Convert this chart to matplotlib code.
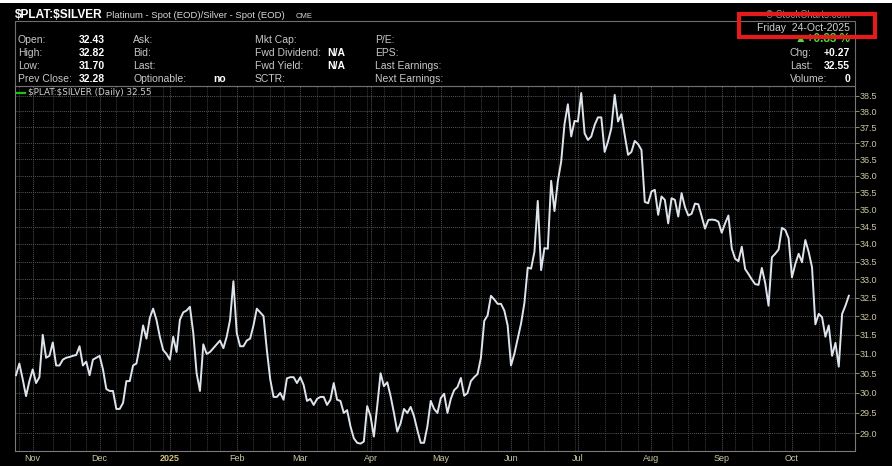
import numpy as np
import pandas as pd
import matplotlib
matplotlib.use("Agg")
import matplotlib.pyplot as plt
from matplotlib.patches import Rectangle
from matplotlib.ticker import FixedLocator, FuncFormatter, NullLocator

# daily close of $PLAT:$SILVER, 25-Oct-2024 .. 24-Oct-2025 (NYSE trading days)
HOLIDAYS = ["2024-11-28", "2024-12-25", "2025-01-01", "2025-01-09", "2025-01-20",
            "2025-02-17", "2025-04-18", "2025-05-26", "2025-06-19", "2025-07-04",
            "2025-09-01"]

ratio_q4_2024 = [
    30.45, 30.75, 30.35, 29.92, 30.3, 30.6, 30.25, 30.4, 31.5, 30.9,
    30.95, 31.3, 30.7, 30.7, 30.85, 30.9, 30.92, 30.95, 30.97, 31.2,
    30.7, 30.8, 30.45, 30.85, 30.9, 30.95, 30.6, 30.1, 30.05, 30.05,
    29.6, 29.6, 29.75, 30.3, 30.3, 30.7, 30.75, 31.2, 31.75, 31.4,
    31.95, 32.2, 31.9, 31.45, 31.1, 31.0, 30.85, 31.45, 31.05, 31.9,
    32.1, 32.15, 32.25, 31.55, 30.5, 30.05, 31.25, 31.0, 31.05, 31.15,
    31.25, 31.35, 31.15, 31.45, 31.9, 32.95, 31.55, 31.2,
]
ratio_feb_apr = [
    31.2, 31.35, 31.4, 31.75, 32.2, 32.1, 32.0, 31.1, 30.35, 29.9,
    29.9, 30.0, 29.83, 30.37, 30.4, 30.4, 30.25, 30.4, 30.2, 29.8,
    29.85, 29.7, 29.85, 29.9, 29.9, 29.7, 29.83, 30.25, 29.83, 29.8,
    29.5, 29.57, 29.17, 28.88, 28.77, 28.75, 28.8, 29.67, 29.42, 28.92,
    29.67, 30.5, 30.17, 30.27, 29.92, 29.5, 29.04, 29.25, 29.6, 29.5,
    29.65, 29.42, 29.08, 28.77, 28.77, 29.17,
]
ratio_may_jun = [
    29.8, 29.6, 29.5, 29.87, 29.98, 29.5, 29.85, 30.07, 30.15, 30.38,
    29.93, 30.0, 30.3, 30.4, 30.48, 30.9, 31.87, 32.02, 32.55, 32.45,
    32.33, 32.33, 32.15, 31.75, 30.7, 31.0, 31.4, 31.8, 32.35,
    33.33, 33.3, 33.77, 35.25, 33.26, 33.88, 33.86, 35.85, 34.95, 35.84,
]
ratio_jul_aug = [
    36.43, 37.6, 38.23, 37.21, 37.7, 37.68, 38.59, 37.31, 37.1, 37.21,
    37.57, 37.81, 37.81, 36.73, 37.05, 37.47, 38.53, 37.68, 37.91, 37.25,
    36.64, 36.73, 37.07, 36.97, 36.79,
    35.22, 35.18, 35.53, 35.58, 34.84, 35.38, 35.28, 34.59, 35.33, 35.28,
    34.79,
]
ratio_sep_oct = [
    35.48, 35.07, 34.82, 34.87, 35.17, 35.15, 34.8, 34.44, 34.69, 34.7,
    34.69, 34.64, 34.32, 34.59, 34.82, 33.87, 33.58, 33.51, 33.92, 33.29,
    33.15, 33.0, 32.87, 32.85, 33.32, 32.9, 32.28, 33.62, 33.72, 33.84,
    34.46, 34.4, 34.16, 33.06, 33.43, 33.72, 33.48, 34.11, 33.77, 33.34,
    31.78, 32.06, 31.97, 31.45, 31.75, 30.95, 31.29, 30.67, 32.06, 32.28,
    32.55,
]
ratio = ratio_q4_2024 + ratio_feb_apr + ratio_may_jun + ratio_jul_aug + ratio_sep_oct

MONTH_LABELS = ["Nov", "Dec", "2025", "Feb", "Mar", "Apr", "May", "Jun",
                "Jul", "Aug", "Sep", "Oct"]
Y_TICKS = [29.0, 29.5, 30.0, 30.5, 31.0, 31.5, 32.0, 32.5, 33.0, 33.5,
           34.0, 34.5, 35.0, 35.5, 36.0, 36.5, 37.0, 37.5, 38.0, 38.5]

dates = pd.bdate_range("2024-10-25", "2025-10-24", freq="C", holidays=HOLIDAYS)
n = min(len(dates), len(ratio))
dates = dates[:n]
ratio = ratio[:n]
idx = np.arange(n)

# first trading day of every month (skip the partial October 2024)
s = pd.Series(idx, index=dates)
month_start = s.groupby([dates.year, dates.month]).first().values[1:]
# first trading day of every week, unless a month line sits right there
week_start = s.groupby(dates.to_period("W")).first().values
week_lines = [w for w in week_start
              if not any(0 <= w - m <= 3 for m in month_start) and w > 0]

W, H = 892, 466
fig = plt.figure(figsize=(W / 100, H / 100), dpi=100, facecolor="black")
ax = fig.add_axes([15 / W, (H - 450.7) / H, (854.5 - 15) / W, (450.7 - 86) / H])
ax.set_facecolor("black")

ax.plot(idx, ratio, color="#dde4ec", lw=1.4, zorder=3)

ax.set_yscale("log")
ax.set_ylim(28.58, 38.82)
ax.set_xlim(-0.3, 250.7)

ax.yaxis.set_major_locator(FixedLocator(Y_TICKS))
ax.yaxis.set_minor_locator(NullLocator())
ax.yaxis.set_major_formatter(FuncFormatter(lambda v, p: f"{v:.1f}"))
ax.yaxis.tick_right()
ax.tick_params(axis="y", which="major", length=3, color="#8a8670", pad=1,
               labelsize=6.5, labelcolor="#cdc7a2")
for lab in ax.get_yticklabels():
    lab.set_family("Liberation Sans")

ax.xaxis.set_major_locator(FixedLocator(month_start))
ax.xaxis.set_minor_locator(FixedLocator(week_lines))
ax.set_xticklabels(MONTH_LABELS[:len(month_start)])
ax.tick_params(axis="x", which="both", length=0, pad=2.5, labelsize=6.5,
               labelcolor="#cdc7a2")
for lab in ax.get_xticklabels():
    lab.set_family("Liberation Sans")
    if lab.get_text() == "2025":
        lab.set_fontweight("bold")
        lab.set_color("#d2c07c")

ax.grid(which="major", axis="both", color="#555555", lw=0.7, ls=(0, (1, 1)))
ax.grid(which="minor", axis="x", color="#3c3c3c", lw=0.7, ls=(0, (1, 1)))
for sp in ax.spines.values():
    sp.set_color("#7a7a7a")
    sp.set_linewidth(0.8)


def t(x, y, s, **kw):
    kw.setdefault("family", ["Liberation Sans", "DejaVu Sans"])
    kw.setdefault("size", 7.5)
    kw.setdefault("color", "#c8c8c8")
    fig.text(x / W, 1 - y / H, s, va="center", **kw)


# header box above the plot
fig.add_artist(Rectangle((15 / W, 1 - 86 / H), (854.5 - 15) / W, (86 - 21) / H,
                         transform=fig.transFigure, fill=False, ec="#6e6e6e", lw=0.8))

t(15, 15, r"\$PLAT:\$SILVER", size=8.6, weight="bold", color="white")
t(106, 16, "Platinum - Spot (EOD)/Silver - Spot (EOD)", size=6.8, color="#d8d8d8")
t(296, 16.5, "CME", size=5.5, color="#d8d8d8")

rows = [40, 53, 66, 79]
for y, lab, val in zip(rows, ["Open:", "High:", "Low:", "Prev Close:"],
                       ["32.43", "32.82", "31.70", "32.28"]):
    t(18, y, lab)
    t(105, y, val, ha="right", weight="bold", color="white")
for y, lab in zip(rows, ["Ask:", "Bid:", "Last:", "Optionable:"]):
    t(133, y, lab)
t(213, 79, "no", weight="bold", color="white")
for y, lab in zip(rows, ["Mkt Cap:", "Fwd Dividend:", "Fwd Yield:", "SCTR:"]):
    t(255, y, lab)
t(345, 53, "N/A", ha="right", weight="bold", color="white")
t(345, 66, "N/A", ha="right", weight="bold", color="white")
for y, lab in zip(rows, ["P/E:", "EPS:", "Last Earnings:", "Next Earnings:"]):
    t(375, y, lab)

t(850, 15.5, "\u00a9 StockCharts.com", ha="right", size=7, color="#9a9a9a")
t(850, 28, "Friday  24-Oct-2025", ha="right", color="#d0d0d0")
t(850, 39.5, "\u25b2+0.83 %", ha="right", weight="bold", color="#3ee03e", size=8.5)
t(790, 53, "Chg:")
t(850, 53, "+0.27", ha="right", weight="bold", color="white")
t(790, 66, "Last:")
t(850, 66, "32.55", ha="right", weight="bold", color="white")
t(790, 79, "Volume:")
t(850, 79, "0", ha="right", weight="bold", color="white")

# legend line inside the plot
fig.add_artist(plt.Line2D([17 / W, 25 / W], [1 - 92.5 / H] * 2, color="#19c419", lw=1.6))
t(28, 92.5, r"\$PLAT:\$SILVER (Daily) 32.55", family="DejaVu Sans", size=6.3,
  color="#d0d0d0")

# red highlight box around the date
fig.add_artist(Rectangle((739.3 / W, 1 - 37.3 / H), (874.7 - 739.3) / W, (37.3 - 13.7) / H,
                         transform=fig.transFigure, fill=False, ec="#e31b1b", lw=3,
                         zorder=10))
# thin white strip at the top edge
fig.add_artist(Rectangle((0, 1 - 3 / H), 1, 3 / H, transform=fig.transFigure,
                         fc="white", ec="none", zorder=11))

fig.savefig("out.png", dpi=100, facecolor="black")
